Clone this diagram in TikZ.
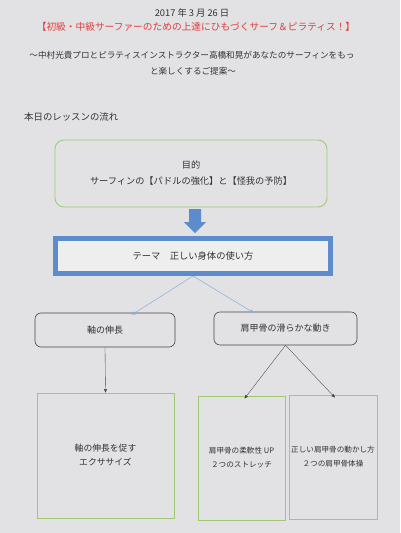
\documentclass[tikz,border=0pt]{standalone}
\usepackage{fontspec}
\setmainfont{Noto Sans CJK JP}
\usetikzlibrary{arrows.meta}
\definecolor{bg}{RGB}{226,226,228}
\definecolor{txt}{RGB}{50,50,50}
\definecolor{titlered}{RGB}{222,60,60}
\definecolor{grn}{RGB}{160,200,115}
\definecolor{blu}{RGB}{92,140,204}
\definecolor{lblu}{RGB}{140,172,222}
\definecolor{dgray}{RGB}{70,70,70}
\tikzset{
  txtstyle/.style={text=txt, inner sep=0pt},
  greenround/.style={draw=grn, line width=0.8pt, rounded corners=9pt, fill=bg, align=center, text=txt, inner sep=0pt},
  themebox/.style={draw=blu, line width=5pt, fill=bg!60!white, text=txt, inner sep=0pt},
  midbox/.style={draw=dgray, line width=0.6pt, rounded corners=6pt, text=txt, inner sep=0pt},
  lowbox/.style={draw=grn, line width=0.8pt, align=center, text=txt, inner sep=0pt},
  blueconn/.style={draw=lblu, line width=0.5pt, -{Triangle[length=3.5pt,width=3.5pt]}},
  grayconn/.style={draw=dgray, line width=0.35pt, -{Triangle[length=3.5pt,width=3pt]}},
}
\begin{document}
\begin{tikzpicture}[x=1pt,y=-1pt]
\fill[bg] (0,0) rectangle (400,533);
\useasboundingbox (0,0) rectangle (400,533);

\node[txtstyle, font=\fontsize{9.3}{10}\selectfont] (date) at (192,13) {2017 年 3 月 26 日};
\node[txtstyle, text=titlered, font=\fontsize{9.7}{10}\selectfont] (title) at (196,27) {【初級・中級サーファーのための上達にひもづくサーフ＆ピラティス！】};
\node[txtstyle, font=\fontsize{8.6}{10}\selectfont] (sub1) at (192,55) {～中村光貴プロとピラティスインストラクター高橋和晃があなたのサーフィンをもっ};
\node[txtstyle, font=\fontsize{8.6}{10}\selectfont] (sub2) at (193,71) {と楽しくするご提案～};
\node[txtstyle, anchor=west, font=\fontsize{9.4}{10}\selectfont] (head) at (24,117) {本日のレッスンの流れ};

\node[greenround, minimum width=272pt, minimum height=67pt, font=\fontsize{9.2}{16}\selectfont] (purpose) at (191,173.5) {目的\\サーフィンの【パドルの強化】と【怪我の予防】};

% down arrow
\fill[blu] (189,209) -- (201,209) -- (201,222) -- (206,222) -- (195,233) -- (184,222) -- (189,222) -- cycle;

\node[themebox, minimum width=275pt, minimum height=35pt, font=\fontsize{9.3}{10}\selectfont] (theme) at (193,256) {テーマ　正しい身体の使い方};

\node[midbox, minimum width=140pt, minimum height=34pt, font=\fontsize{9}{10}\selectfont] (lmid) at (105,330) {軸の伸長};
\node[midbox, minimum width=143pt, minimum height=33pt, font=\fontsize{9}{10}\selectfont] (rmid) at (285.5,328.5) {肩甲骨の滑らかな動き};

\node[lowbox, minimum width=137pt, minimum height=125pt, font=\fontsize{8.8}{14}\selectfont] (bl) at (105.5,455.5) {軸の伸長を促す\\エクササイズ};
\node[lowbox, minimum width=87pt, minimum height=124pt, font=\fontsize{7.6}{14}\selectfont] (bm) at (241.5,458) {肩甲骨の柔軟性 UP\\２つのストレッチ};
\node[lowbox, minimum width=88pt, minimum height=124pt, font=\fontsize{7.6}{14}\selectfont] (br) at (333,457) {正しい肩甲骨の動かし方\\２つの肩甲骨体操};

\draw[blueconn] (theme.south) -- ([xshift=27pt,yshift=-2pt]lmid.north);
\draw[blueconn] (theme.south) -- ([xshift=-32pt,yshift=-1pt]rmid.north);
\draw[grayconn] (lmid.south) -- (bl.north);
\draw[grayconn] (rmid.south) -- ([xshift=3pt,yshift=-3pt]bm.north);
\draw[grayconn] (rmid.south) -- ([xshift=2pt,yshift=-3pt]br.north);
\end{tikzpicture}
\end{document}
